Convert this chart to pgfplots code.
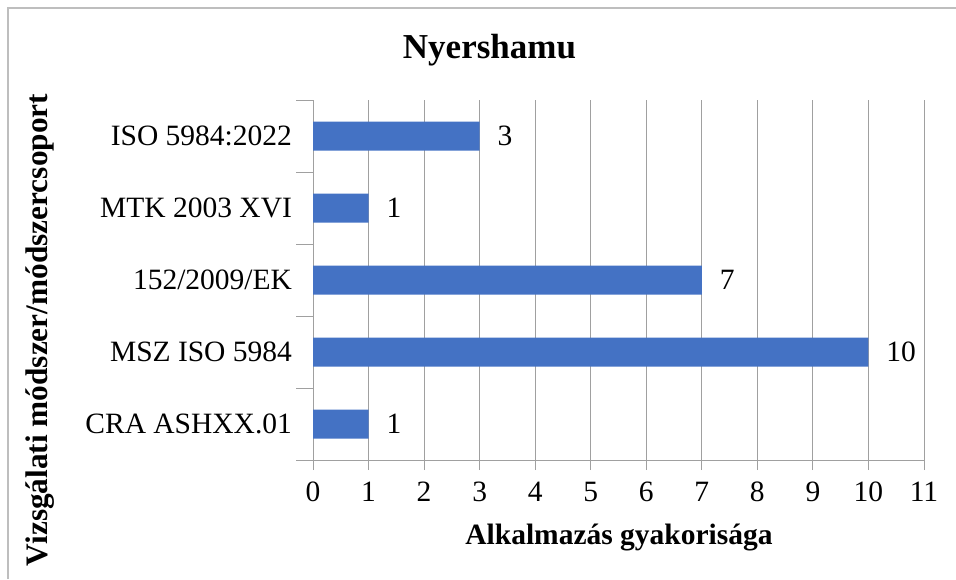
\documentclass[border=0pt]{standalone}
\usepackage{fontspec}
\setmainfont{Liberation Serif}
\usepackage{pgfplots}
\pgfplotsset{compat=1.18}
\definecolor{barblue}{RGB}{68,114,196}
\definecolor{gridgray}{RGB}{160,160,160}
\definecolor{framegray}{RGB}{190,190,190}
\begin{document}
\fontsize{29.5}{34}\selectfont
\begin{tikzpicture}[x=1pt,y=1pt]
  \path[use as bounding box] (0,0) rectangle (956,579);
  \draw[framegray, line width=1.5pt] (8,0) -- (8,571) -- (956,571);
  \begin{axis}[
    at={(313pt,119pt)}, anchor=south west,
    width=611pt, height=360pt, scale only axis,
    xbar, bar width=29pt,
    xmin=0, xmax=11, ymin=-0.5, ymax=4.5,
    axis lines=left, axis line style={-, gridgray, line width=1pt},
    xtick={0,...,11},
    ytick={0,...,4},
    yticklabels={CRA ASHXX.01, MSZ ISO 5984, 152/2009/EK, MTK 2003 XVI, ISO 5984:2022},
    minor ytick={-0.5,0.5,...,4.5},
    tick align=outside,
    major tick length=10pt, minor tick length=17pt,
    y tick style={draw=none},
    minor y tick style={draw=gridgray, line width=1pt},
    x tick style={gridgray, line width=1pt},
    xmajorgrids, grid style={gridgray, line width=1pt},
    /pgf/number format/assume math mode=true,
    ticklabel style={font=\fontsize{29.5}{34}\selectfont},
    yticklabel style={xshift=-1pt},
    xticklabel style={yshift=-2pt},
    nodes near coords,
    nodes near coords style={anchor=west, xshift=8pt, font=\fontsize{29.5}{34}\selectfont, black},
  ]
  \addplot[fill=barblue, draw=none] coordinates {
    (1,0) (10,1) (7,2) (1,3) (3,4)
  };
  \end{axis}
  \node[font=\bfseries\fontsize{35}{40}\selectfont] at (489.5,529) {Nyershamu};
  \node[font=\bfseries\fontsize{29.5}{34}\selectfont] at (619,41) {Alkalmazás gyakorisága};
  \node[font=\bfseries\fontsize{31.3}{36}\selectfont, rotate=90] at (40,249) {Vizsgálati módszer/módszercsoport};
\end{tikzpicture}
\end{document}
